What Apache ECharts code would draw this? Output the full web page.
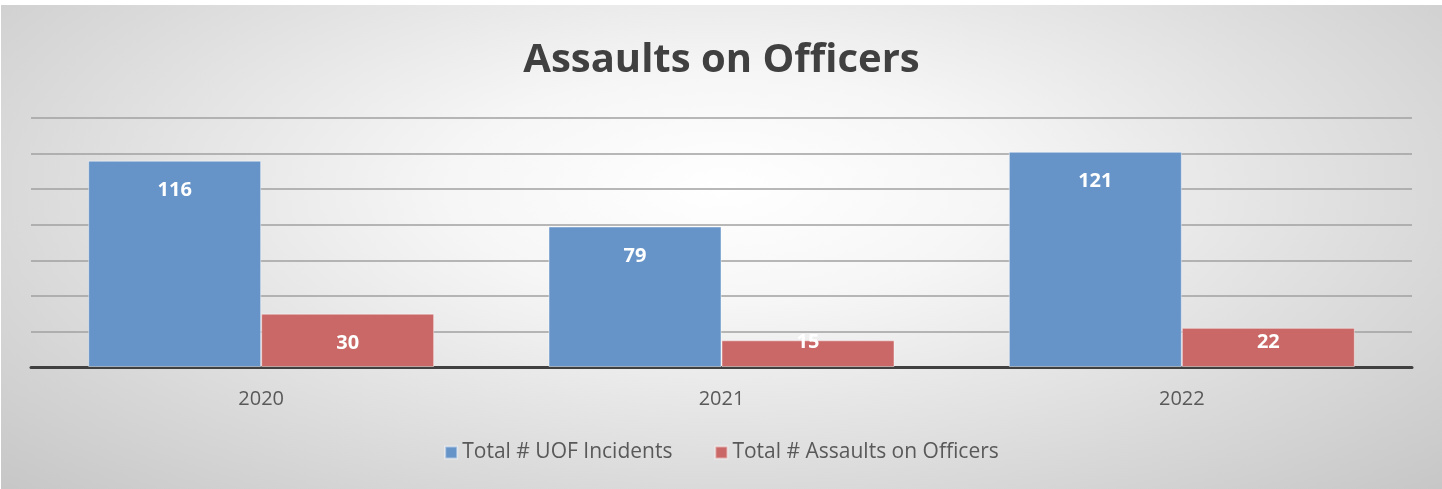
<!DOCTYPE html>
<html>
<head>
<meta charset="utf-8">
<script src="https://cdn.jsdelivr.net/npm/echarts@6/dist/echarts.min.js"></script>
<style>
  html, body { margin: 0; padding: 0; background: #fff; }
  #chart {
    position: absolute;
    left: 1px;
    top: 5px;
    width: 1441px;
    height: 484px;
    background: radial-gradient(ellipse 75% 95% at 50% 38%, #ffffff 0%, #f6f6f6 25%, #dadada 65%, #c2c2c2 100%);
  }
</style>
</head>
<body>
<div id="chart"></div>
<script>
var years = ["2020", "2021", "2022"];
var uofIncidents = [116, 79, 121];
var assaults = [30, 15, 22];
var seriesNames = ["Total # UOF Incidents", "Total # Assaults on Officers"];

// short bars get their label pinned near the base, like Excel does
var shortBar = 30;
function withLabels(values) {
  return values.map(function (v) {
    if (v < shortBar) {
      return { value: v, label: { position: "insideBottom", distance: 15 } };
    }
    return v;
  });
}

var myChart = echarts.init(document.getElementById("chart"));
var options = {
  backgroundColor: "transparent",
  title: {
    text: "Assaults on Officers",
    left: "center",
    top: 31,
    textStyle: {
      fontFamily: "Open Sans",
      fontWeight: "bold",
      fontSize: 40,
      color: "#404040",
    },
  },
  legend: {
    bottom: 21,
    left: "center",
    itemWidth: 12,
    itemHeight: 12,
    itemGap: 42,
    itemTextGap: 6,
    icon: "rect",
    textStyle: {
      fontFamily: "Open Sans",
      fontSize: 21,
      color: "#595959",
    },
    data: seriesNames,
  },
  grid: {
    left: 30,
    right: 30,
    top: 113,
    bottom: 122,
  },
  xAxis: {
    type: "category",
    data: years,
    axisTick: { show: false },
    axisLine: { lineStyle: { color: "#404040", width: 3 } },
    axisLabel: {
      fontFamily: "Open Sans",
      fontSize: 20,
      color: "#595959",
      margin: 22,
    },
  },
  yAxis: {
    type: "value",
    min: 0,
    max: 140,
    interval: 20,
    axisLabel: { show: false },
    axisLine: { show: false },
    axisTick: { show: false },
    splitLine: { lineStyle: { color: "#a0a0a0", width: 1.5 } },
  },
  series: [
    {
      name: seriesNames[0],
      type: "bar",
      barWidth: 173,
      barGap: "0%",
      data: withLabels(uofIncidents),
      itemStyle: {
        color: "#6794c8",
        borderColor: "rgba(255,255,255,0.45)",
        borderWidth: 1,
      },
      label: {
        show: true,
        position: "insideTop",
        distance: 20,
        color: "#ffffff",
        fontFamily: "Open Sans",
        fontWeight: "bold",
        fontSize: 20,
      },
    },
    {
      name: seriesNames[1],
      type: "bar",
      barWidth: 173,
      barGap: "0%",
      data: withLabels(assaults),
      itemStyle: {
        color: "#c96866",
        borderColor: "rgba(255,255,255,0.45)",
        borderWidth: 1,
      },
      label: {
        show: true,
        position: "insideTop",
        distance: 20,
        color: "#ffffff",
        fontFamily: "Open Sans",
        fontWeight: "bold",
        fontSize: 20,
      },
    },
  ],
};
myChart.setOption(options);
</script>
</body>
</html>
